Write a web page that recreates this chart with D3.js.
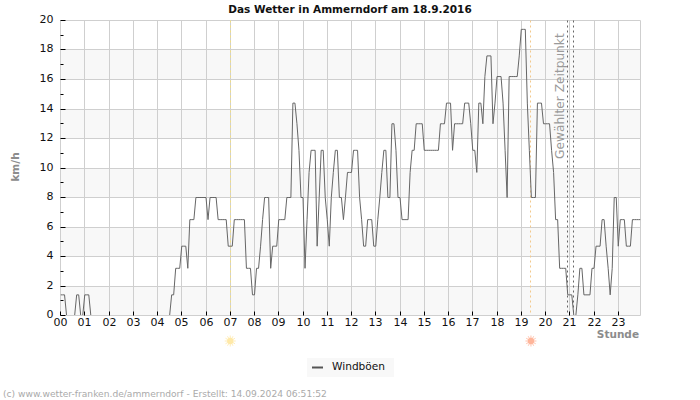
<!DOCTYPE html>
<html>
<head>
<meta charset="utf-8">
<script src="https://cdnjs.cloudflare.com/ajax/libs/d3/7.8.5/d3.min.js"></script>
<style>
html,body{margin:0;padding:0;background:#fff}
svg{display:block}
text{font-family:"DejaVu Sans",sans-serif}
</style>
</head>
<body>
<svg id="chart" width="700" height="400"></svg>
<script>
const titleText = "Das Wetter in Ammerndorf am 18.9.2016";
const yLabelText = "km/h";
const xLabelText = "Stunde";
const seriesName = "Windböen";
const markerText = "Gewählter Zeitpunkt";
const footerText = "(c) www.wetter-franken.de/ammerndorf - Erstellt: 14.09.2024 06:51:52";
const sampleMinutes = 5;
const hourTicks = d3.range(0, 24);
const majorKmh = [0,2,4,6,8,10,12,14,16,18,20];
const minorKmh = [1,3,5,7,9,11,13,15,17,19];
const bandStarts = [0,4,8,12,16];
const sunriseHour = 7;
const sunsetHour = 19.4;
const selectedHours = [20.92, 21.16];
// one value every 5 minutes, one row per hour
const gusts = [
 1.4,1.4,1.4,0,0,0,0,0,1.4,1.4,0,0,
 1.4,1.4,1.4,0,0,0,0,0,0,0,0,0,
 0,0,0,0,0,0,0,0,0,0,0,0,
 0,0,0,0,0,0,0,0,0,0,0,0,
 0,0,0,0,0,0,0,1.4,1.4,3.2,3.2,3.2,
 4.7,4.7,4.7,3.2,6.5,6.5,6.5,8,8,8,8,8,
 8,6.5,8,8,8,8,6.5,6.5,6.5,6.5,6.5,4.7,
 4.7,4.7,6.5,6.5,6.5,6.5,6.5,6.5,3.2,3.2,3.2,1.4,
 1.4,3.2,3.2,4.7,6.5,8,8,8,3.2,4.7,4.7,4.7,
 6.5,6.5,6.5,6.5,8,8,8,14.4,14.4,13,11.2,8,
 8,3.2,6.5,9.7,11.2,11.2,11.2,4.7,8,11.2,11.2,8,
 6.5,4.7,8,9.7,11.2,11.2,8,8,6.5,8,9.7,9.7,
 9.7,11.2,11.2,11.2,8,6.5,4.7,4.7,6.5,6.5,6.5,4.7,
 4.7,6.5,8,9.7,11.2,11.2,8,8,13,13,11.2,8,
 8,6.5,6.5,6.5,6.5,9.7,11.2,11.2,13,13,13,13,
 11.2,11.2,11.2,11.2,11.2,11.2,11.2,11.2,13,13,13,14.4,
 14.4,14.4,11.2,13,13,13,13,13,14.4,14.4,14.4,13,
 11.2,11.2,9.7,14.4,14.4,13,16.2,17.6,17.6,17.6,13,14.4,
 16.2,16.2,16.2,14.4,11.2,8,16.2,16.2,16.2,16.2,16.2,17.6,
 19.4,19.4,19.4,14.4,11.2,8,8,8,14.4,14.4,14.4,13,
 13,13,13,11.2,9.7,6.5,6.5,3.2,3.2,3.2,3.2,1.4,
 1.4,1.4,0,0,1.4,3.2,3.2,1.4,1.4,1.4,1.4,3.2,
 3.2,4.7,4.7,4.7,6.5,6.5,4.7,3.2,1.4,3.2,8,8,
 4.7,6.5,6.5,6.5,4.7,4.7,4.7,6.5,6.5,6.5,6.5,6.5
];

const svg = d3.select("#chart");
const plotLeft = 60.5, plotRight = 640.5, plotTop = 20.5, plotBottom = 315.5;
const x = d3.scaleLinear().domain([0, 287 * sampleMinutes / 60]).range([plotLeft, plotRight]);
const y = d3.scaleLinear().domain([0, 20]).range([plotBottom, plotTop]);
const gridColor = "#cfcfcf", labelGray = "#8c8c8c";
const snap = v => Math.floor(v) + .5;

// alternating bands
svg.append("g").selectAll("rect").data(bandStarts).join("rect")
  .attr("x", plotLeft).attr("width", plotRight - plotLeft)
  .attr("y", d => y(d + 2)).attr("height", d => y(d) - y(d + 2))
  .attr("fill", "#f8f8f8");

// grid
svg.append("g").selectAll("line").data(majorKmh).join("line")
  .attr("x1", plotLeft).attr("x2", plotRight)
  .attr("y1", d => snap(y(d))).attr("y2", d => snap(y(d)))
  .attr("stroke", gridColor);
svg.append("g").selectAll("line").data(hourTicks.concat([x.domain()[1]])).join("line")
  .attr("x1", d => snap(x(d))).attr("x2", d => snap(x(d)))
  .attr("y1", plotTop).attr("y2", plotBottom)
  .attr("stroke", gridColor);

// sunrise / sunset lines
const sunData = [
  {h: sunriseHour, line: "#f2de80", fill: "#ffe9a8"},
  {h: sunsetHour, line: "#f3c88a", fill: "#ffb59a"}
];
svg.append("g").selectAll("line").data(sunData).join("line")
  .attr("x1", d => snap(x(d.h))).attr("x2", d => snap(x(d.h)))
  .attr("y1", plotTop).attr("y2", plotBottom)
  .attr("stroke", d => d.line).attr("stroke-dasharray", "2,3");

// selected time lines
svg.append("g").selectAll("line").data(selectedHours).join("line")
  .attr("x1", d => snap(x(d))).attr("x2", d => snap(x(d)))
  .attr("y1", plotTop).attr("y2", plotBottom)
  .attr("stroke", "#666").attr("stroke-dasharray", "2,3");

// marker label
svg.append("text")
  .attr("transform", `translate(${x(selectedHours[0]) - 3.5},159) rotate(-90)`)
  .attr("font-size", 12.2).attr("fill", "#9a9a9a")
  .text(markerText);

// axes
const yAxis = d3.axisLeft(y).tickValues(majorKmh).tickSize(-5).tickPadding(7);
const gy = svg.append("g").attr("transform", `translate(${plotLeft},0)`).call(yAxis);
gy.select(".domain").remove();
gy.selectAll(".tick").attr("transform", d => `translate(0,${snap(y(d))})`);
gy.selectAll("text").attr("font-size", 11).attr("fill", "#111").attr("font-family", '"DejaVu Sans"').attr("y", -1.5);
const yMinor = d3.axisLeft(y).tickValues(minorKmh).tickSize(-3).tickFormat("");
const gm = svg.append("g").attr("transform", `translate(${plotLeft},0)`).call(yMinor);
gm.select(".domain").remove();
gm.selectAll(".tick").attr("transform", d => `translate(0,${snap(y(d))})`);

const xAxis = d3.axisBottom(x).tickValues(hourTicks).tickSize(-4).tickPadding(3)
  .tickFormat(d => d3.format("02d")(d));
const gx = svg.append("g").attr("transform", `translate(0,${plotBottom})`).call(xAxis);
gx.select(".domain").remove();
gx.selectAll(".tick").attr("transform", d => `translate(${snap(x(d))},0)`);
gx.selectAll("text").attr("font-size", 11).attr("fill", "#111").attr("font-family", '"DejaVu Sans"');

// series, cut off at the zero line so that calm periods leave no trace
svg.append("clipPath").attr("id", "above-zero").append("rect")
  .attr("x", plotLeft).attr("y", plotTop - 2)
  .attr("width", plotRight - plotLeft).attr("height", plotBottom - plotTop + 1.5);
const line = d3.line()
  .x((d, i) => x(i * sampleMinutes / 60))
  .y(d => y(d));
svg.append("path").datum(gusts).attr("clip-path", "url(#above-zero)")
  .attr("d", line).attr("fill", "none").attr("stroke", "#666").attr("stroke-width", 1);

// sun icons
const rayAngles = d3.range(0, 360, 30);
const suns = svg.append("g").selectAll("g").data(sunData).join("g")
  .attr("transform", d => `translate(${x(d.h)},341)`);
suns.append("circle").attr("r", 3.2).attr("fill", d => d.fill);
suns.selectAll("line").data(d => rayAngles.map(a => ({a, fill: d.fill}))).join("line")
  .attr("x1", d => 3 * Math.cos(d.a * Math.PI / 180)).attr("y1", d => 3 * Math.sin(d.a * Math.PI / 180))
  .attr("x2", d => 5.5 * Math.cos(d.a * Math.PI / 180)).attr("y2", d => 5.5 * Math.sin(d.a * Math.PI / 180))
  .attr("stroke", d => d.fill).attr("stroke-width", .8);

// title and labels
svg.append("text").attr("x", 350).attr("y", 13).attr("text-anchor", "middle")
  .attr("font-size", 10.5).attr("font-weight", "bold").attr("fill", "#111").text(titleText);
svg.append("text").attr("transform", "translate(19,167) rotate(-90)").attr("text-anchor", "middle")
  .attr("font-size", 10.5).attr("font-weight", "bold").attr("fill", labelGray).text(yLabelText);
svg.append("text").attr("x", 639).attr("y", 338).attr("text-anchor", "end")
  .attr("font-size", 10.5).attr("font-weight", "bold").attr("fill", labelGray).text(xLabelText);

// legend
svg.append("rect").attr("x", 307).attr("y", 358).attr("width", 87).attr("height", 19).attr("fill", "#f8f8f8");
svg.append("line").attr("x1", 312).attr("x2", 323).attr("y1", 367.5).attr("y2", 367.5)
  .attr("stroke", "#555").attr("stroke-width", 2);
svg.append("text").attr("x", 332).attr("y", 370).attr("font-size", 10.6).attr("fill", "#111").text(seriesName);

// footer
svg.append("text").attr("x", 3).attr("y", 397).attr("font-size", 9.15).attr("fill", "#aaa").text(footerText);
</script>
</body>
</html>
